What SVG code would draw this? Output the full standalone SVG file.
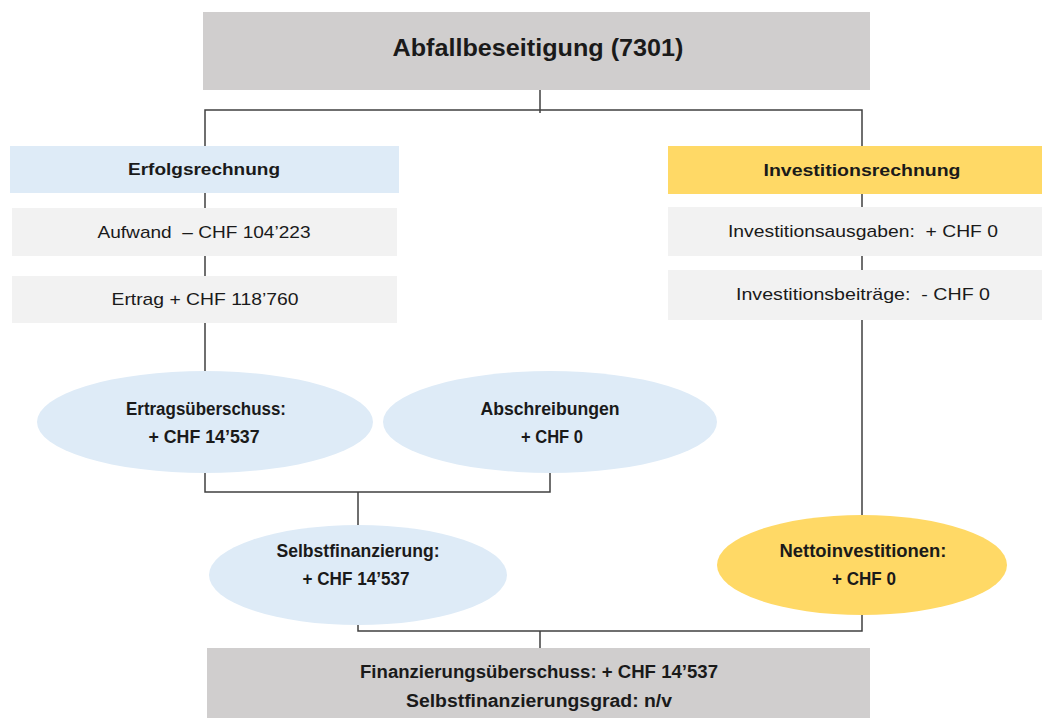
<svg xmlns="http://www.w3.org/2000/svg" width="1042" height="718" viewBox="0 0 1042 718">
<style>
text{font-family:"Liberation Sans",Arial,sans-serif;fill:#1a1a1a;text-anchor:middle;white-space:pre}
.b{font-weight:bold}
.t{font-size:24px}
.h{font-size:16px}
.n{font-size:17px}
.e{font-size:17.5px}
.gray{fill:#D0CECE}
.light{fill:#F2F2F2}
.blue{fill:#DEEBF7}
.yel{fill:#FFD966}
.c{fill:none;stroke:#404040;stroke-width:1.5}
</style>
<rect width="1042" height="718" fill="#fff"/>
<g id="connectors">
<path class="c" d="M540 90V113M205 147V110H862V147"/>
<path class="c" d="M205 193V208M205 256V276M205 323V372"/>
<path class="c" d="M862 194V207M862 256V270M862 320V515"/>
<path class="c" d="M205 473V492H550V473M358 492V525"/>
<path class="c" d="M358 625V631H862V615M540 631V648"/>
</g>
<g id="title"><rect class="gray" x="203" y="12" width="667" height="78"/><text class="b t" x="538" y="56" textLength="291" lengthAdjust="spacingAndGlyphs">Abfallbeseitigung (7301)</text></g>
<g id="erfolgsrechnung"><rect class="blue" x="10" y="146" width="389" height="47"/><text class="b h" x="204" y="175" textLength="152" lengthAdjust="spacingAndGlyphs">Erfolgsrechnung</text></g>
<g id="aufwand"><rect class="light" x="12" y="208" width="385" height="48"/><text class="n" x="204" y="238" textLength="213" lengthAdjust="spacingAndGlyphs">Aufwand  – CHF 104’223</text></g>
<g id="ertrag"><rect class="light" x="12" y="276" width="385" height="47"/><text class="n" x="205" y="305" textLength="187" lengthAdjust="spacingAndGlyphs">Ertrag + CHF 118’760</text></g>
<g id="investitionsrechnung"><rect class="yel" x="668" y="146" width="374" height="48"/><text class="b h" x="862" y="176" textLength="197" lengthAdjust="spacingAndGlyphs">Investitionsrechnung</text></g>
<g id="investitionsausgaben"><rect class="light" x="668" y="207" width="374" height="49"/><text class="n" x="863" y="237" textLength="270" lengthAdjust="spacingAndGlyphs">Investitionsausgaben:  + CHF 0</text></g>
<g id="investitionsbeitraege"><rect class="light" x="668" y="270" width="374" height="50"/><text class="n" x="863" y="300" textLength="254" lengthAdjust="spacingAndGlyphs">Investitionsbeiträge:  - CHF 0</text></g>
<g id="ertragsueberschuss"><ellipse class="blue" cx="205" cy="422" rx="168" ry="51"/><text class="b e" x="206" y="415" textLength="160" lengthAdjust="spacingAndGlyphs">Ertragsüberschuss:</text><text class="b e" x="204" y="443" textLength="111" lengthAdjust="spacingAndGlyphs">+ CHF 14’537</text></g>
<g id="abschreibungen"><ellipse class="blue" cx="550" cy="422" rx="167" ry="51"/><text class="b e" x="550" y="415" textLength="139" lengthAdjust="spacingAndGlyphs">Abschreibungen</text><text class="b e" x="552" y="443" textLength="62" lengthAdjust="spacingAndGlyphs">+ CHF 0</text></g>
<g id="selbstfinanzierung"><ellipse class="blue" cx="358" cy="575" rx="149" ry="50"/><text class="b e" x="358" y="557" textLength="163" lengthAdjust="spacingAndGlyphs">Selbstfinanzierung:</text><text class="b e" x="356" y="585" textLength="107" lengthAdjust="spacingAndGlyphs">+ CHF 14’537</text></g>
<g id="nettoinvestitionen"><ellipse class="yel" cx="862" cy="565" rx="145" ry="50"/><text class="b e" x="863" y="557" textLength="167" lengthAdjust="spacingAndGlyphs">Nettoinvestitionen:</text><text class="b e" x="864" y="585" textLength="64" lengthAdjust="spacingAndGlyphs">+ CHF 0</text></g>
<g id="finanzierung"><rect class="gray" x="207" y="648" width="663" height="70"/><text class="b e" x="539" y="678" textLength="358" lengthAdjust="spacingAndGlyphs">Finanzierungsüberschuss: + CHF 14’537</text><text class="b e" x="539" y="707" textLength="266" lengthAdjust="spacingAndGlyphs">Selbstfinanzierungsgrad: n/v</text></g>
</svg>
